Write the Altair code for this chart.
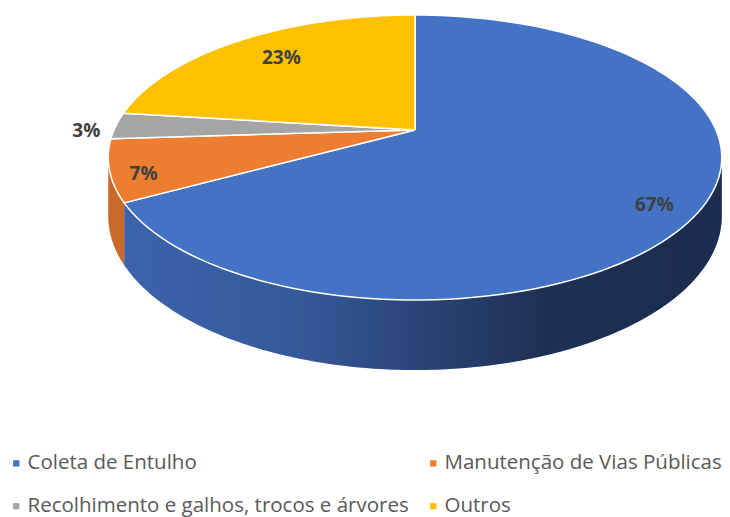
import math
import altair as alt
import pandas as pd

# ---- data ----
categories = [
    "Coleta de Entulho",
    "Manutenção de Vias Públicas",
    "Recolhimento e galhos, trocos e árvores",
    "Outros",
]
values = [67, 7, 3, 23]

# ---- style ----
top_colors = ["#4472C4", "#ED7D31", "#A5A5A5", "#FFC000"]
side_colors = ["#3C63AC", "#CA6A2A", "#8C8C8C", "#D9A300"]

df = pd.DataFrame({"category": categories, "value": values, "order": list(range(len(categories)))})

# ---- layout (pixels) ----
W, H = 730, 517
CX, CY = 415, 130          # pie centre on screen
A, B, K = 301, 137.2, 0.193  # ellipse half-axes and perspective factor
DEPTH = 56.5
N = 120
TH_R = math.acos(-K)
TH_L = 2 * math.pi - TH_R
LABEL_R = [0.86, 0.9, 1.1, 0.75]
LABEL_DX = [-4, 2, 0, 1]
LABEL_DY = [9, 8, 6, -2]

X = alt.X("px:Q", scale=alt.Scale(domain=[0, W], nice=False, zero=False), axis=None)
Y = alt.Y("py:Q", scale=alt.Scale(domain=[0, H], reverse=True, nice=False, zero=False), axis=None)


def proj_x(t, r="1"):
    return f"{CX} + {A}*({r})*sin({t})/(1 + {K}*({r})*cos({t}))"


def proj_y(t, r="1"):
    return f"{CY} - {B}*({r})*cos({t})/(1 + {K}*({r})*cos({t}))"


base = (
    alt.Chart(df)
    .transform_joinaggregate(total="sum(value)")
    .transform_window(cum="sum(value)", frame=[None, 0], sort=[alt.SortField("order")])
    .transform_calculate(s="2*PI*(datum.cum - datum.value)/datum.total")
    .transform_calculate(e="2*PI*datum.cum/datum.total")
)

# top faces
top = (
    base.transform_calculate(pts=f"sequence(-1, {N + 2})")
    .transform_flatten(["pts"], as_=["i"])
    .transform_calculate(t=f"datum.s + (datum.e - datum.s)*clamp(datum.i, 0, {N})/{N}")
    .transform_calculate(ctr=f"datum.i < 0 || datum.i > {N}")
    .transform_calculate(px=f"datum.ctr ? {CX} : " + proj_x("datum.t"))
    .transform_calculate(py=f"datum.ctr ? {CY} : " + proj_y("datum.t"))
    .mark_line(filled=True, stroke="white", strokeWidth=1.5, strokeJoin="round")
    .encode(
        x=X,
        y=Y,
        order="i:Q",
        detail="category:N",
        color=alt.Color(
            "category:N",
            scale=alt.Scale(domain=categories, range=top_colors),
            legend=alt.Legend(
                title=None,
                orient="none",
                direction="horizontal",
                legendX=6,
                legendY=453,
                columns=2,
                columnPadding=14,
                rowPadding=22,
                symbolType="square",
                symbolSize=40,
                symbolStrokeWidth=0,
                labelFont="Open Sans",
                labelFontSize=20.5,
                labelColor="#595959",
                labelOffset=1,
                labelLimit=500,
                padding=0,
            ),
        ),
    )
)


def side_geom(chart):
    return (
        chart.transform_filter("datum.s2 > datum.s1")
        .transform_calculate(pts=f"sequence(0, {2 * N + 2})")
        .transform_flatten(["pts"], as_=["i"])
        .transform_calculate(
            t=f"datum.i <= {N} ? datum.s1 + (datum.s2 - datum.s1)*datum.i/{N} : "
              f"datum.s2 - (datum.s2 - datum.s1)*(datum.i - {N + 1})/{N}"
        )
        .transform_calculate(px=proj_x("datum.t"))
        .transform_calculate(
            py=proj_y("datum.t") + f" + (datum.i > {N} ? {DEPTH}/(1 + {K}*cos(datum.t)) : 0)"
        )
    )


side = (
    side_geom(
        base.transform_calculate(s1=f"max(datum.s, {TH_R})").transform_calculate(
            s2=f"min(datum.e, {TH_L})"
        )
    )
    .mark_line(filled=True, strokeWidth=0)
    .encode(
        x=X,
        y=Y,
        order="i:Q",
        detail="category:N",
        color=alt.Color("category:N", scale=alt.Scale(domain=categories, range=side_colors), legend=None),
    )
)

shade = (
    side_geom(
        alt.Chart(df)
        .transform_aggregate(n="count()")
        .transform_calculate(s1=f"{TH_R}")
        .transform_calculate(s2=f"{TH_L}")
    )
    .mark_line(
        filled=True,
        strokeWidth=0,
        fill=alt.Gradient(
            gradient="linear",
            x1=0, y1=0, x2=1, y2=0,
            stops=[
                alt.GradientStop(color="rgba(0,0,0,0)", offset=0),
                alt.GradientStop(color="rgba(0,0,0,0.1)", offset=0.3),
                alt.GradientStop(color="rgba(0,0,0,0.52)", offset=0.72),
                alt.GradientStop(color="rgba(0,0,0,0.55)", offset=1),
            ],
        ),
    )
    .encode(x=X, y=Y, order="i:Q")
)

text = (
    base.transform_calculate(mid="(datum.s + datum.e)/2")
    .transform_calculate(r=f"{LABEL_R}[datum.order]")
    .transform_calculate(px=proj_x("datum.mid", "datum.r") + f" + {LABEL_DX}[datum.order]")
    .transform_calculate(py=proj_y("datum.mid", "datum.r") + f" + {LABEL_DY}[datum.order]")
    .transform_calculate(txt="format(datum.value/datum.total, '.0%')")
    .mark_text(font="Open Sans", fontWeight="bold", fontSize=19, color="#404040",
               align="center", baseline="middle")
    .encode(x=X, y=Y, text="txt:N")
)

chart = (
    alt.layer(side, shade, top, text)
    .resolve_scale(color="independent")
    .properties(width=W, height=H, padding=0, autosize="none")
    .configure_view(stroke=None)
)

chart.save("out.html", embed_options={"renderer": "svg", "actions": False})
